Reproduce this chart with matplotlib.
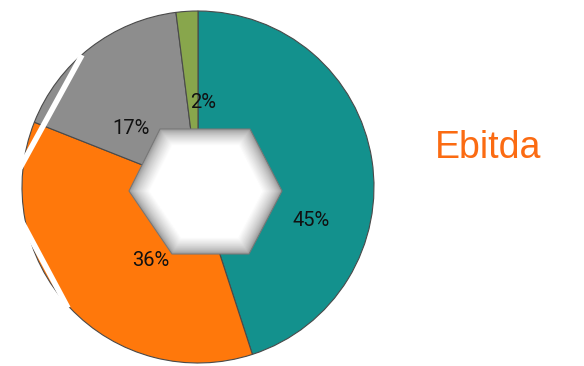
import numpy as np
import matplotlib
matplotlib.use("Agg")
import matplotlib.pyplot as plt
from matplotlib.patches import Polygon

# data
categories = ["Segment A", "Segment B", "Segment C", "Segment D"]
shares = [45, 36, 17, 2]
labels = ["45%", "36%", "17%", "2%"]
colors = ["#13918d", "#ff780b", "#8d8d8d", "#88a64c"]
title = "Ebitda"

W, H = 584, 366
fig = plt.figure(figsize=(W / 100, H / 100), dpi=100)
ax = fig.add_axes([0, 0, 1, 1])

def Y(py):
    return H - py

cx, cy, r = 198, Y(187), 176
wedges, _ = ax.pie(shares, colors=colors, startangle=90, counterclock=False,
                   center=(cx, cy), radius=r,
                   wedgeprops=dict(edgecolor="#4a4a4a", linewidth=0.8))

# label positions (pixels)
label_pos = [(311, 220), (151, 261), (131, 128), (203, 103)]
for lab, (px, py) in zip(labels, label_pos):
    ax.text(px, Y(py), lab, ha="center", va="center", fontsize=14.5,
            color="#111111", family=["Roboto", "DejaVu Sans"])

# hexagonal hole with inner shading
hexv = np.array([(160, 129), (250, 129), (282, 191), (249, 254), (172, 254), (129, 191)], float)
hc = hexv.mean(axis=0)
n = 26
for i in range(n):
    s = 1.0 - 0.26 * i / (n - 1)
    t = i / (n - 1)
    g = 0.56 + 0.44 * (t ** 0.6)
    pts = hc + (hexv - hc) * s
    pts = np.column_stack([pts[:, 0], H - pts[:, 1]])
    ax.add_patch(Polygon(pts, closed=True, facecolor=(g, g, g),
                         edgecolor="#777777" if i == 0 else "none",
                         linewidth=0.8 if i == 0 else 0, zorder=3 + i * 0.01))
inner = hc + (hexv - hc) * 0.74
ax.add_patch(Polygon(np.column_stack([inner[:, 0], H - inner[:, 1]]), closed=True,
                     facecolor="white", edgecolor="none", zorder=4))

# white cut lines on the left
ax.plot([82, 20], [Y(55), Y(168)], color="white", lw=4, solid_capstyle="butt", zorder=5)
ax.plot([22, 68], [Y(222), Y(308)], color="white", lw=4, solid_capstyle="butt", zorder=5)

ax.text(488, Y(148), title, ha="center", va="center", fontsize=27,
        color="#fb6b12", family=["Liberation Sans", "DejaVu Sans"])

ax.set_xlim(0, W)
ax.set_ylim(0, H)
ax.set_aspect("auto")
ax.axis("off")
fig.savefig("out.png", dpi=100)
